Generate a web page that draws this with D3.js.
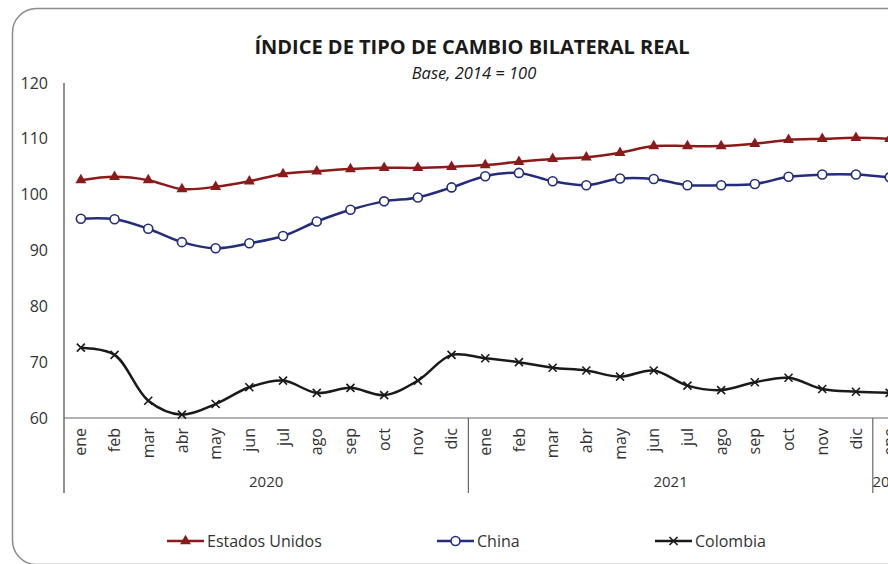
<!DOCTYPE html>
<html>
<head>
<meta charset="utf-8">
<script src="https://cdn.jsdelivr.net/npm/d3@7"></script>
<style>
  body { margin: 0; background: #fff; overflow: hidden; }
  text { font-family: "Open Sans", "Noto Sans", sans-serif; fill: #333; }
</style>
</head>
<body>
<div id="chart"></div>
<script>
// data
var months = ["ene","feb","mar","abr","may","jun","jul","ago","sep","oct","nov","dic",
              "ene","feb","mar","abr","may","jun","jul","ago","sep","oct","nov","dic",
              "ene"];
var years = [{label: "2020", start: 0, n: 12}, {label: "2021", start: 12, n: 12}, {label: "2022", start: 24, n: 1}];
var estadosUnidos = [102.6,103.2,102.6,101.0,101.4,102.4,103.7,104.2,104.6,104.8,104.8,105.0,
                     105.3,105.9,106.4,106.7,107.5,108.7,108.7,108.7,109.1,109.8,110.0,110.2,110.0];
var china = [95.7,95.6,93.9,91.5,90.4,91.3,92.6,95.2,97.3,98.8,99.5,101.3,
             103.3,103.9,102.4,101.7,102.9,102.8,101.7,101.7,101.9,103.2,103.6,103.6,103.1];
var colombia = [72.6,71.3,63.1,60.6,62.5,65.5,66.7,64.5,65.4,64.1,66.7,71.3,
                70.7,70.0,69.0,68.5,67.4,68.5,65.8,65.0,66.4,67.2,65.2,64.7,64.5];
var yTicks = [60,70,80,90,100,110,120];

var series = [
  {name: "Estados Unidos", values: estadosUnidos, color: "#8b1a1a", marker: "triangle"},
  {name: "China", values: china, color: "#232d7c", marker: "circle"},
  {name: "Colombia", values: colombia, color: "#1a1a1a", marker: "cross"}
];

var width = 888, height = 564;
var left = 64, step = 33.7;

var svg = d3.select("#chart").append("svg")
    .attr("width", width)
    .attr("height", height);

// frame
svg.append("rect")
    .attr("x", 12.5).attr("y", 8.5)
    .attr("width", 1000).attr("height", 556)
    .attr("rx", 24)
    .attr("fill", "none")
    .attr("stroke", "#8c8c8c")
    .attr("stroke-width", 1.5);

// scales
var x = d3.scaleBand()
    .domain(d3.range(months.length))
    .range([left, left + step * months.length])
    .padding(0);
var y = d3.scaleLinear()
    .domain([60, 120])
    .range([418, 83]);

function cx(i) { return x(i) + x.bandwidth() / 2; }

// title
svg.append("text")
    .attr("x", 472).attr("y", 54)
    .attr("text-anchor", "middle")
    .style("font-size", "20px")
    .style("font-weight", "bold")
    .style("fill", "#1a1a1a")
    .text("ÍNDICE DE TIPO DE CAMBIO BILATERAL REAL");
svg.append("text")
    .attr("x", 474).attr("y", 79)
    .attr("text-anchor", "middle")
    .style("font-size", "16.5px")
    .style("font-style", "italic")
    .style("fill", "#1a1a1a")
    .text("Base, 2014 = 100");

// y axis
var yAxis = svg.append("g")
    .attr("transform", "translate(" + left + ",0)")
    .call(d3.axisLeft(y).tickValues(yTicks).tickSize(0).tickPadding(16));
yAxis.select(".domain").remove();
yAxis.selectAll("text")
    .style("font-size", "16px")
    .style("font-family", "'Open Sans', sans-serif")
    .attr("fill", "#333");

svg.append("line")
    .attr("x1", left).attr("x2", left)
    .attr("y1", y(120)).attr("y2", 493)
    .attr("stroke", "#222").attr("stroke-width", 1);

// x axis line at 60
svg.append("line")
    .attr("x1", left).attr("x2", width)
    .attr("y1", y(60)).attr("y2", y(60))
    .attr("stroke", "#666").attr("stroke-width", 1.2);

// month labels
var xAxis = svg.append("g")
    .attr("transform", "translate(0," + y(60) + ")")
    .call(d3.axisBottom(x).tickSize(0).tickFormat(function(i) { return months[i]; }));
xAxis.select(".domain").remove();
xAxis.selectAll("text")
    .attr("transform", "rotate(-90)")
    .attr("x", -10)
    .attr("y", 0)
    .attr("dy", ".35em")
    .style("text-anchor", "end")
    .style("font-size", "16px")
    .style("font-family", "'Open Sans', sans-serif")
    .attr("fill", "#333");

// year separators and labels
years.forEach(function(yr) {
    var x0 = x(yr.start);
    if (yr.start > 0) {
        svg.append("line")
            .attr("x1", x0).attr("x2", x0)
            .attr("y1", y(60)).attr("y2", 493)
            .attr("stroke", "#666").attr("stroke-width", 1.2);
    }
    svg.append("text")
        .attr("x", x0 + (yr.n * step) / 2)
        .attr("y", 487)
        .attr("text-anchor", "middle")
        .style("font-size", "15px")
        .text(yr.label);
});

// lines
var line = d3.line()
    .x(function(d, i) { return cx(i); })
    .y(function(d) { return y(d); })
    .curve(d3.curveCatmullRom.alpha(0.5));

function drawMarker(g, type, color) {
    if (type === "triangle") {
        g.append("path")
            .attr("d", d3.symbol().type(d3.symbolTriangle).size(52)())
            .attr("fill", color);
    } else if (type === "circle") {
        g.append("circle")
            .attr("r", 4.5)
            .attr("fill", "#fff")
            .attr("stroke", color)
            .attr("stroke-width", 1.6);
    } else {
        g.append("path")
            .attr("d", "M-4,-4L4,4M-4,4L4,-4")
            .attr("stroke", color)
            .attr("stroke-width", 1.6);
    }
}

series.forEach(function(s) {
    svg.append("path")
        .datum(s.values)
        .attr("fill", "none")
        .attr("stroke", s.color)
        .attr("stroke-width", 2.5)
        .attr("d", line);

    svg.selectAll(null)
        .data(s.values)
        .enter().append("g")
        .attr("transform", function(d, i) { return "translate(" + cx(i) + "," + y(d) + ")"; })
        .each(function() { drawMarker(d3.select(this), s.marker, s.color); });
});

// legend
var legendX = [167, 437, 655];
series.forEach(function(s, i) {
    var g = svg.append("g").attr("transform", "translate(" + legendX[i] + ",541)");
    g.append("line")
        .attr("x1", 0).attr("x2", 37)
        .attr("stroke", s.color).attr("stroke-width", 2.5);
    drawMarker(g.append("g").attr("transform", "translate(18.5,0)"), s.marker, s.color);
    g.append("text")
        .attr("x", 40).attr("y", 5.5)
        .style("font-size", "16px")
        .text(s.name);
});
</script>
</body>
</html>
